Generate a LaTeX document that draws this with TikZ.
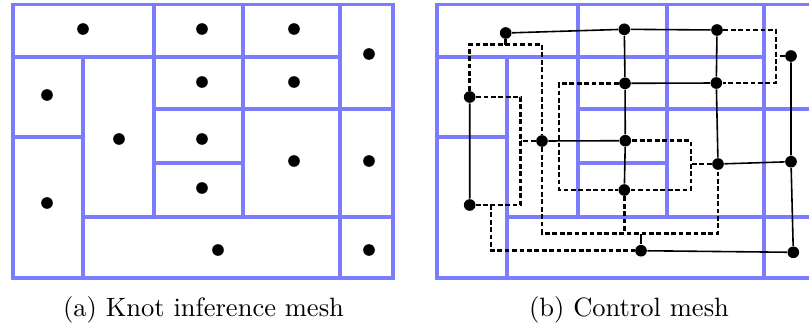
\documentclass[tikz,border=0pt]{standalone}
\usetikzlibrary{calc}
\definecolor{meshblue}{RGB}{124,124,255}
\begin{document}
\begin{tikzpicture}[x=0.377pt,y=-0.377pt,
  meshline/.style={draw=meshblue,line width=1.25pt},
  dot/.style={circle,fill=black,inner sep=0pt,minimum size=4.4pt},
  link/.style={draw=black,line width=0.6pt},
  dlink/.style={draw=black,line width=0.95pt,dash pattern=on 1.8pt off 1pt},
  stub/.style={draw=black,line width=0.95pt},
  caption/.style={font=\normalsize,inner sep=0pt,anchor=base},
  mesh/.pic={
    \draw[meshline] (13,4.5) rectangle (393,278);
    \draw[meshline] (154,4.5)--(154,217) (243,4.5)--(243,217)
      (340,4.5)--(340,278) (83,57)--(83,278)
      (13,57)--(340,57) (154,109)--(393,109) (13,137)--(83,137)
      (154,163)--(243,163) (83,217)--(393,217);
  }]
\useasboundingbox (0,0) rectangle (809,329);
\clip (0,0) rectangle (809,329);

% meshes
\pic at (0,0) {mesh};
\pic at (424,0) {mesh};

% knots (left)
\node[dot] (k1) at (83,29) {};
\node[dot] (k2) at (202,29) {};
\node[dot] (k3) at (294,29) {};
\node[dot] (k4) at (369,54) {};
\node[dot] (k5) at (47,95) {};
\node[dot] (k6) at (202,82) {};
\node[dot] (k7) at (294,82) {};
\node[dot] (k8) at (119,139) {};
\node[dot] (k9) at (202,139) {};
\node[dot] (k10) at (202,188) {};
\node[dot] (k11) at (294,161) {};
\node[dot] (k12) at (369,161) {};
\node[dot] (k13) at (47,203) {};
\node[dot] (k14) at (218,250) {};
\node[dot] (k15) at (369,250) {};

% control points (right)
\node[dot] (A) at (505.7,33) {};
\node[dot] (B) at (624.3,29.3) {};
\node[dot] (C) at (717,30) {};
\node[dot] (D) at (791,56) {};
\node[dot] (E) at (469.7,97) {};
\node[dot] (F) at (625,83.3) {};
\node[dot] (G) at (716.3,83) {};
\node[dot] (H) at (542,141) {};
\node[dot] (I) at (625.3,140.7) {};
\node[dot] (J) at (718,164) {};
\node[dot] (K) at (791,161.7) {};
\node[dot] (L) at (469.7,205) {};
\node[dot] (M) at (624.3,190) {};
\node[dot] (N) at (641,250.7) {};
\node[dot] (O) at (793.3,252.3) {};

\coordinate (a1) at (505.7,44.5);
\coordinate (n1) at (641,233.5);
\coordinate (e1) at (520.7,150);
\coordinate (l1) at (491,230);
\coordinate (f1) at (559,140);
\coordinate (m1) at (691,165);
\coordinate (c1) at (776,56);

% solid links
\draw[link] (A)--(B) (B)--(C) (B)--(F) (F)--(I) (I)--(M)
  (C)--(G) (G)--(J) (F)--(G) (H)--(I) (J)--(K)
  (D)--(K) (K)--(O) (N)--(O) (E)--(L);

% dashed links
\draw[dlink] (E) |- (a1) -| (H);
\draw[stub] (A) -- (a1);
\draw[dlink] (H) |- (n1) -| (J);
\draw[dlink] (M) -- (M |- n1);
\draw[stub] (N) -- (n1);
\draw[dlink] (E) -| (e1) |- (L);
\draw[dlink] (H) -- (H -| e1);
\draw[dlink] (L) -| (l1) |- (N);
\draw[dlink] (F) -| (f1) |- (M);
\draw[dlink] (M) -| (m1) |- (I);
\draw[dlink] (J) -- (J -| m1);
\draw[dlink] (C) -| (c1) |- (G);
\draw[dlink] (D) -- (D -| c1);

% captions
\node[caption] (capa) at (203.5,316) {(a) Knot inference mesh};
\node[caption] (capb) at (629,316) {(b) Control mesh};
\end{tikzpicture}
\end{document}
